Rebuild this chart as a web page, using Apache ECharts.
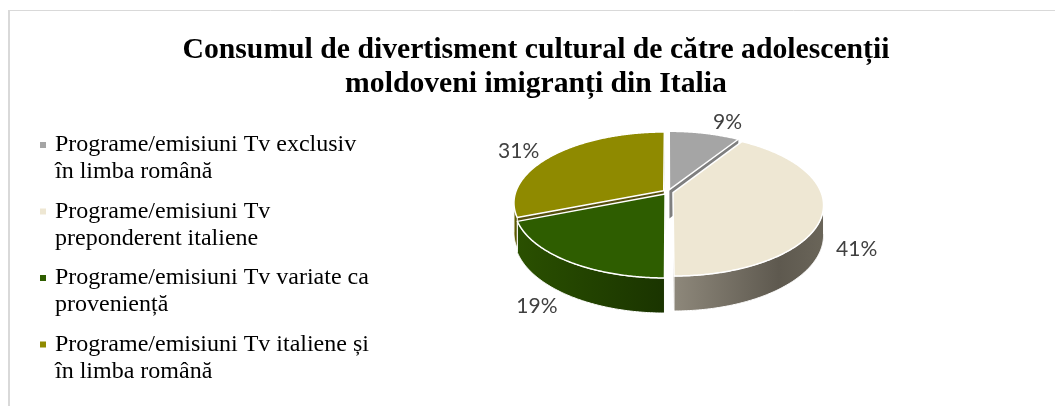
<!DOCTYPE html>
<html>
<head>
<meta charset="utf-8">
<script src="https://cdn.jsdelivr.net/npm/echarts@6/dist/echarts.min.js"></script>
<style>
  html, body { margin: 0; padding: 0; background: #ffffff; }
  #chart { width: 1055px; height: 406px; }
</style>
</head>
<body>
<div id="chart"></div>
<script>
// ---- data ----
const titleLines = [
  'Consumul de divertisment cultural de către adolescenții',
  'moldoveni imigranți din Italia'
];
const categories = [
  'Programe/emisiuni Tv exclusiv în limba română',
  'Programe/emisiuni Tv preponderent italiene',
  'Programe/emisiuni Tv variate ca proveniență',
  'Programe/emisiuni Tv italiene și în limba română'
];
const legendLines = [
  ['Programe/emisiuni Tv exclusiv', 'în limba română'],
  ['Programe/emisiuni Tv', 'preponderent italiene'],
  ['Programe/emisiuni Tv variate ca', 'proveniență'],
  ['Programe/emisiuni Tv italiene și', 'în limba română']
];
const shares = [9, 41, 19, 31];

// ---- styles ----
const topColors = ['#a5a5a5', '#eee7d3', '#2e5d00', '#8f8a00'];
const sideColors = ['#7f7f7f', '#7a7467', '#1f3f00', '#55500e'];
const wallStops = [
  [[0, '#8a8a8a'], [1, '#6a6a6a']],
  [[0, '#8e887b'], [0.7, '#5e594f'], [1, '#6a6559']],
  [[0, '#2a5000'], [1, '#1a3400']],
  [[0, '#6b6700'], [1, '#4e4b00']]
];
const LABEL_FONT = '21px Lato';

// ---- 3D pie projection ----
const CX = 668, CY = 192, RX = 148, RY = 69, PERSP = 0.169, DEPTH = 29, EXPLODE = 0.035;
const LABEL_R = 1.12, LABEL_DROP = 1.12, LABEL_H = 20, LABEL_MARGIN = 3;
const TAU = Math.PI * 2;
const total = shares.reduce((a, b) => a + b, 0);
const starts = [];
shares.reduce((acc, v, i) => { starts[i] = acc; return acc + v; }, 0);

function proj(X, Z, bottom) {
  const s = 1 + PERSP * Z;
  return [CX + RX * X / s, CY - RY * Z / s + (bottom ? DEPTH / s : 0)];
}
function signedArea(pts) {
  let a = 0;
  for (let i = 0; i < pts.length; i++) {
    const p = pts[i], q = pts[(i + 1) % pts.length];
    a += p[0] * q[1] - q[0] * p[1];
  }
  return a / 2;
}

// outline of the whole disc (top rim at the back, bottom rim at the front)
const VIS0 = Math.acos(-PERSP), VIS1 = TAU - VIS0;
const silhouette = (() => {
  const pts = [], n = 240;
  for (let k = 0; k <= n; k++) {
    const t = (VIS1 - TAU) + (VIS0 - (VIS1 - TAU)) * k / n;
    pts.push(proj(Math.sin(t), Math.cos(t), false));
  }
  for (let k = 0; k <= n; k++) {
    const t = VIS0 + (VIS1 - VIS0) * k / n;
    pts.push(proj(Math.sin(t), Math.cos(t), true));
  }
  return pts;
})();
function insideDisc(x, y) {
  let c = false;
  for (let i = 0, j = silhouette.length - 1; i < silhouette.length; j = i++) {
    const [xi, yi] = silhouette[i], [xj, yj] = silhouette[j];
    if (((yi > y) !== (yj > y)) && (x < (xj - xi) * (y - yi) / (yj - yi) + xi)) c = !c;
  }
  return c;
}
function boxHitsDisc(cx, cy, w, h) {
  const x0 = cx - w / 2 - LABEL_MARGIN, x1 = cx + w / 2 + LABEL_MARGIN;
  const y0 = cy - h / 2 - LABEL_MARGIN, y1 = cy + h / 2 + LABEL_MARGIN;
  for (let k = 0; k <= 12; k++) {
    const fx = x0 + (x1 - x0) * k / 12, fy = y0 + (y1 - y0) * k / 12;
    if (insideDisc(fx, y0) || insideDisc(fx, y1) || insideDisc(x0, fy) || insideDisc(x1, fy)) return true;
  }
  return false;
}
const measureCtx = document.createElement('canvas').getContext('2d');
function textWidth(text) {
  measureCtx.font = LABEL_FONT;
  return measureCtx.measureText(text).width;
}

function renderSlice(i) {
  const a0 = starts[i] / total * TAU;
  const a1 = (starts[i] + shares[i]) / total * TAU;
  const m = (a0 + a1) / 2;
  const ox = EXPLODE * Math.sin(m), oz = EXPLODE * Math.cos(m);
  const rim = (t, b) => proj(ox + Math.sin(t), oz + Math.cos(t), b);
  const apex = b => proj(ox, oz, b);
  const arc = (t0, t1, b) => {
    const n = Math.max(2, Math.ceil(Math.abs(t1 - t0) / (Math.PI / 360)));
    const pts = [];
    for (let k = 0; k <= n; k++) pts.push(rim(t0 + (t1 - t0) * k / n, b));
    return pts;
  };
  const children = [];

  // radial cut faces, kept only when facing the viewer
  const startWall = [apex(false), apex(true), rim(a0, true), rim(a0, false)];
  const endWall = [apex(false), rim(a1, false), rim(a1, true), apex(true)];
  [[startWall, a0], [endWall, a1]].forEach(([pts, t]) => {
    if (signedArea(pts) > 0) {
      children.push({
        type: 'polygon', shape: { points: pts },
        style: { fill: sideColors[i] },
        z2: 50 - 20 * (oz + Math.cos(t) / 2)
      });
    }
  });

  // outer rim wall, front-facing part only
  const w0 = Math.max(a0, VIS0), w1 = Math.min(a1, VIS1);
  if (w1 > w0) {
    const pts = arc(w1, w0, false).concat(arc(w0, w1, true));
    children.push({
      type: 'polygon', shape: { points: pts },
      style: {
        fill: new echarts.graphic.LinearGradient(0, 0, 1, 0,
          wallStops[i].map(s => ({ offset: s[0], color: s[1] }))),
        stroke: '#ffffff', lineWidth: 1
      },
      z2: 80
    });
  }

  // top face
  const top = [apex(false)].concat(arc(a0, a1, false));
  children.push({
    type: 'polygon', shape: { points: top },
    style: { fill: topColors[i], stroke: '#ffffff', lineWidth: 1.5, lineJoin: 'round' },
    z2: 120
  });

  // percentage label just outside the slice, pushed clear of the disc
  const text = shares[i] + '%';
  const w = textWidth(text);
  const sx = Math.sin(m), cz = Math.cos(m);
  const lz = LABEL_R * cz;
  const lp = proj(LABEL_R * sx, lz, false);
  if (cz < 0) lp[1] += LABEL_DROP * DEPTH / (1 + PERSP * lz);
  let lx = lp[0] + (sx >= 0 ? w / 2 : -w / 2), ly = lp[1];
  const dx = lx - CX, dy = ly - CY, dl = Math.hypot(dx, dy);
  for (let k = 0; k < 80 && boxHitsDisc(lx, ly, w, LABEL_H); k++) {
    lx += dx / dl; ly += dy / dl;
  }
  children.push({
    type: 'text', x: lx, y: ly,
    style: {
      text, fill: '#404040',
      font: LABEL_FONT, align: 'center', verticalAlign: 'middle'
    },
    z2: 300
  });

  return { type: 'group', children };
}

// ---- legend rich text ----
const rich = {
  t: { fontFamily: 'Liberation Serif', fontSize: 24, color: '#000000', lineHeight: 27 },
  s: { width: 9 },
  ind: { width: 15 }
};
topColors.forEach((c, i) => {
  rich['m' + i] = { width: 6, height: 6, backgroundColor: c };
});

const chart = echarts.init(document.getElementById('chart'), null, { renderer: 'canvas' });
chart.setOption({
  animation: false,
  backgroundColor: '#ffffff',
  title: {
    text: titleLines.join('\n'),
    left: 536,
    top: 33,
    padding: 0,
    textAlign: 'center',
    textStyle: {
      fontFamily: 'Liberation Serif', fontWeight: 'bold', fontSize: 29.7,
      lineHeight: 34.5, color: '#000000'
    }
  },
  legend: {
    orient: 'vertical',
    left: 34,
    top: 133,
    padding: 0,
    itemGap: 15.5,
    itemWidth: 1,
    itemHeight: 6,
    icon: 'none',
    selectedMode: false,
    data: categories,
    formatter: name => {
      const i = categories.indexOf(name);
      const l = legendLines[i];
      return '{m' + i + '|}{s|}{t|' + l[0] + '}\n{ind|}{t|' + l[1] + '}';
    },
    textStyle: { rich }
  },
  graphic: [
    { type: 'line', silent: true, shape: { x1: 9, y1: 10.5, x2: 1055, y2: 10.5 },
      style: { stroke: '#d9d9d9', lineWidth: 1 } },
    { type: 'line', silent: true, shape: { x1: 9, y1: 10, x2: 9, y2: 406 },
      style: { stroke: '#d9d9d9', lineWidth: 2 } }
  ],
  series: categories.map((name, i) => ({
    type: 'custom',
    name,
    coordinateSystem: 'none',
    silent: true,
    itemStyle: { color: topColors[i] },
    data: [[shares[i]]],
    renderItem: () => renderSlice(i)
  }))
});
</script>
</body>
</html>
